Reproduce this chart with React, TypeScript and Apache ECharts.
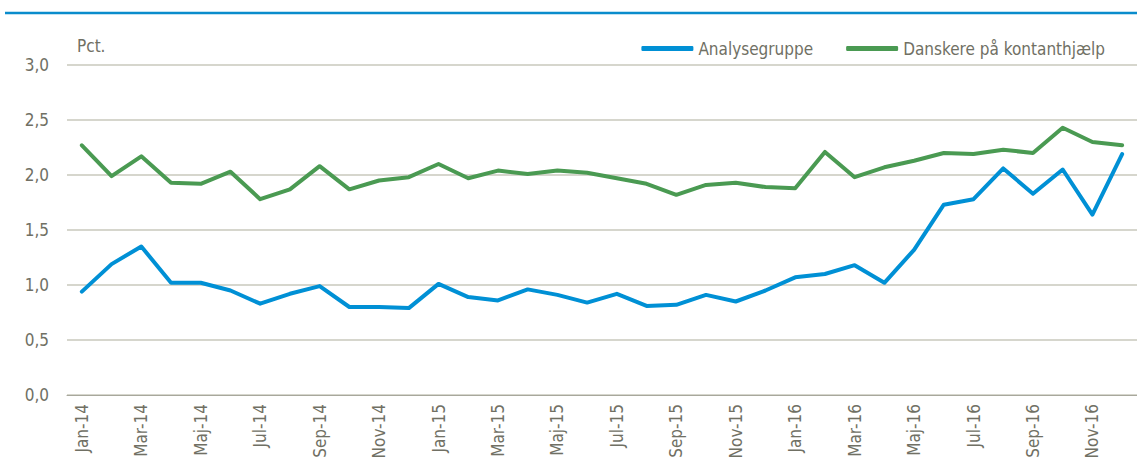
import React, { useEffect, useRef } from "react";
import * as echarts from "echarts";

const months = [
  "Jan-14", "Feb-14", "Mar-14", "Apr-14", "Maj-14", "Jun-14", "Jul-14", "Aug-14", "Sep-14", "Okt-14", "Nov-14", "Dec-14",
  "Jan-15", "Feb-15", "Mar-15", "Apr-15", "Maj-15", "Jun-15", "Jul-15", "Aug-15", "Sep-15", "Okt-15", "Nov-15", "Dec-15",
  "Jan-16", "Feb-16", "Mar-16", "Apr-16", "Maj-16", "Jun-16", "Jul-16", "Aug-16", "Sep-16", "Okt-16", "Nov-16", "Dec-16",
];

const analysegruppe = [
  0.94, 1.19, 1.35, 1.02, 1.02, 0.95, 0.83, 0.92, 0.99, 0.80, 0.80, 0.79,
  1.01, 0.89, 0.86, 0.96, 0.91, 0.84, 0.92, 0.81, 0.82, 0.91, 0.85, 0.95,
  1.07, 1.10, 1.18, 1.02, 1.32, 1.73, 1.78, 2.06, 1.83, 2.05, 1.64, 2.19,
];

const kontanthjaelp = [
  2.27, 1.99, 2.17, 1.93, 1.92, 2.03, 1.78, 1.87, 2.08, 1.87, 1.95, 1.98,
  2.10, 1.97, 2.04, 2.01, 2.04, 2.02, 1.97, 1.92, 1.82, 1.91, 1.93, 1.89,
  1.88, 2.21, 1.98, 2.07, 2.13, 2.20, 2.19, 2.23, 2.20, 2.43, 2.30, 2.27,
];

const seriesNames = ["Analysegruppe", "Danskere på kontanthjælp"];
const unitLabel = "Pct.";

const FONT = "'Liberation Sans Narrow', 'Arial Narrow', 'DejaVu Sans Condensed', sans-serif";
const TEXT_COLOR = "#707064";
const BLUE = "#0090d5";
const GREEN = "#4a9a52";
const FS = 17;

export default function App() {
  const ref = useRef<HTMLDivElement>(null);

  useEffect(() => {
    if (!ref.current) return;
    const chart = echarts.init(ref.current, undefined, { renderer: "svg" });
    chart.setOption({
      animation: false,
      backgroundColor: "#ffffff",
      textStyle: { fontFamily: FONT },
      graphic: [
        {
          type: "line",
          shape: { x1: 5, y1: 13, x2: 1137, y2: 13 },
          style: { stroke: "#0a8ccc", lineWidth: 2.5 },
        },
        {
          type: "text",
          left: 77,
          top: 37,
          style: { text: unitLabel, fill: TEXT_COLOR, font: `${FS}px ${FONT}` },
        },
      ],
      legend: {
        right: 27,
        top: 35,
        icon: "roundRect",
        itemWidth: 52,
        itemHeight: 5,
        itemGap: 33,
        textStyle: { color: TEXT_COLOR, fontSize: FS, fontFamily: FONT },
        data: seriesNames,
      },
      grid: { left: 67, top: 65, width: 1073, bottom: 74, containLabel: false },
      xAxis: {
        type: "category",
        data: months,
        boundaryGap: true,
        axisLine: { lineStyle: { color: "#a8a89c", width: 1 } },
        axisTick: { show: false },
        axisLabel: {
          interval: 1,
          rotate: 90,
          margin: 9,
          color: TEXT_COLOR,
          fontSize: FS,
          fontFamily: FONT,
        },
      },
      yAxis: {
        type: "value",
        min: 0,
        max: 3,
        interval: 0.5,
        axisLine: { show: false },
        axisTick: { show: false },
        splitLine: { lineStyle: { color: "#c8c8bc", width: 1.5 } },
        axisLabel: {
          margin: 18,
          color: TEXT_COLOR,
          fontSize: FS,
          fontFamily: FONT,
          formatter: (v: number) => v.toFixed(1).replace(".", ","),
        },
      },
      series: [
        {
          name: seriesNames[0],
          type: "line",
          data: analysegruppe,
          symbol: "none",
          lineStyle: { color: BLUE, width: 4, cap: "round", join: "round" },
          itemStyle: { color: BLUE },
        },
        {
          name: seriesNames[1],
          type: "line",
          data: kontanthjaelp,
          symbol: "none",
          lineStyle: { color: GREEN, width: 4, cap: "round", join: "round" },
          itemStyle: { color: GREEN },
        },
      ],
    });
    return () => chart.dispose();
  }, []);

  return (
    <div
      ref={ref}
      style={{ position: "fixed", left: 0, top: 0, width: 1137, height: 469, background: "#fff" }}
    />
  );
}
